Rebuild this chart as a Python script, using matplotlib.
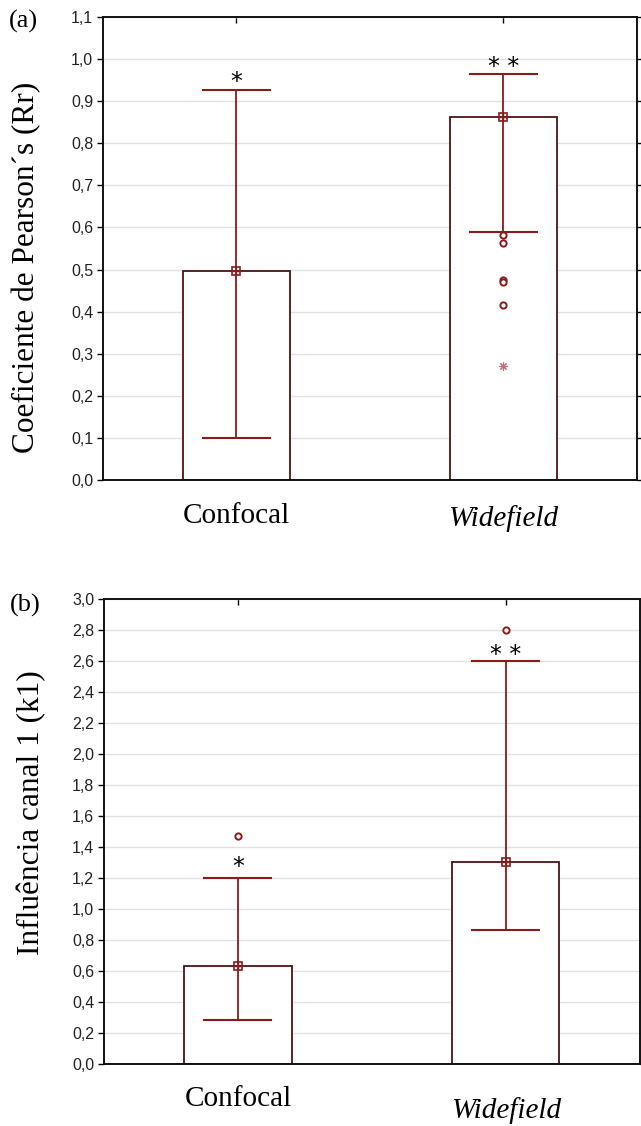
import matplotlib.pyplot as plt
from matplotlib.ticker import MultipleLocator, FuncFormatter

# values
groups = ["Confocal", "Widefield"]

rr_mean = [0.497, 0.862]
rr_low = [0.100, 0.589]
rr_high = [0.927, 0.965]
rr_outliers = [[], [0.583, 0.563, 0.475, 0.470, 0.415]]
rr_extremes = [[], [0.272]]
rr_stars = ["*", "* *"]
rr_star_y = [0.945, 0.982]

k1_mean = [0.630, 1.300]
k1_low = [0.285, 0.865]
k1_high = [1.200, 2.600]
k1_outliers = [[1.47], [2.80]]
k1_extremes = [[], []]
k1_stars = ["*", "* *"]
k1_star_y = [1.27, 2.635]

edge = "#4a1414"
red = "#8b1a1a"
serif = "Liberation Serif"
sans = "Liberation Sans"

fig = plt.figure(figsize=(6.41, 11.26), dpi=100)
ax1 = fig.add_axes([0.1607, 0.5737, 0.833, 0.4112])
ax2 = fig.add_axes([0.1622, 0.0551, 0.836, 0.4130])


def comma(v, pos):
    return ("%.1f" % v).replace(".", ",")


def panel(ax, mean, low, high, outl, extr, stars, star_y, ymax, step, ylabel, lab_xy,
          tag, tag_dy, xoff):
    x = range(len(groups))
    ax.bar(x, mean, width=0.4, facecolor="white", edgecolor=edge, linewidth=1.3, zorder=2)
    for i in x:
        ax.plot([i, i], [low[i], high[i]], color=red, lw=1.3, zorder=3)
        for y in (low[i], high[i]):
            ax.plot([i - 0.125, i + 0.125], [y, y], color=red, lw=1.5, zorder=3)
        ax.plot(i, mean[i], marker="s", ms=6, mfc="none", mec=red, mew=1.2, zorder=4)
        ax.plot(i, mean[i], marker="+", ms=6, mec=red, mew=1.0, zorder=4)
        ax.plot([i] * len(outl[i]), outl[i], "o", ms=4.5, mfc="white", mec=red, mew=1.4,
                ls="none", zorder=4)
        ax.plot([i] * len(extr[i]), extr[i], marker=(8, 2, 0), ms=6, color="#c07070",
                mew=0.8, ls="none", zorder=4)
        ax.text(i, star_y[i], stars[i], ha="center", va="center", fontsize=17,
                family="DejaVu Sans", zorder=5)
    ax.set_xlim(-0.5, 1.5)
    ax.set_ylim(0, ymax)
    ax.yaxis.set_major_locator(MultipleLocator(step))
    ax.yaxis.set_major_formatter(FuncFormatter(comma))
    ax.grid(axis="y", color="#e2e2e2", lw=1.0, zorder=0)
    ax.set_axisbelow(True)
    ax.set_xticks(list(x))
    ax.set_xticklabels([])
    ax.tick_params(axis="x", direction="in", top=True, length=4, width=1)
    ax.tick_params(axis="y", direction="out", right=True, length=4, width=1,
                   labelsize=11.5, pad=3)
    for lab in ax.get_yticklabels():
        lab.set_family(sans)
        lab.set_color("#222222")
    for s in ax.spines.values():
        s.set_linewidth(1.4)
        s.set_color("#111111")
    ax.set_ylabel(ylabel, family=serif, fontsize=22.5)
    ax.yaxis.set_label_coords(*lab_xy)
    ax.annotate(tag, xy=(0, 1), xycoords="axes fraction", xytext=(-94, -tag_dy),
                textcoords="offset pixels", family=serif, fontsize=19, ha="left", va="center")
    for i, name in enumerate(groups):
        ax.annotate(name, xy=(i, 0), xycoords=("data", "axes fraction"),
                    xytext=(0, -xoff[i]), textcoords="offset pixels", ha="center",
                    va="center", family=serif, fontsize=21,
                    style="italic" if name == "Widefield" else "normal")


panel(ax1, rr_mean, rr_low, rr_high, rr_outliers, rr_extremes, rr_stars, rr_star_y,
      1.1, 0.1, "Coeficiente de Pearson´s (Rr)", (-0.115, 0.46), "(a)", 4, [36, 38])
panel(ax2, k1_mean, k1_low, k1_high, k1_outliers, k1_extremes, k1_stars, k1_star_y,
      3.0, 0.2, "Influência canal 1 (k1)", (-0.107, 0.54), "(b)", 7, [35, 47])

fig.savefig("out.png", dpi=100)
